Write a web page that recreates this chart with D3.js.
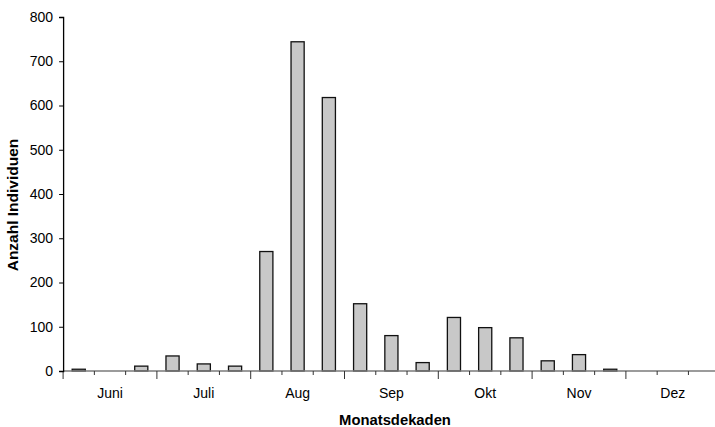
<!DOCTYPE html>
<html>
<head>
<meta charset="utf-8">
<script src="https://cdn.jsdelivr.net/npm/d3@7"></script>
<style>
  html, body { margin: 0; padding: 0; background: #fff; }
  svg text { font-family: "Liberation Sans", Arial, sans-serif; }
</style>
</head>
<body>
<svg id="chart" width="715" height="427"></svg>
<script>
// Monthly decades (three per month) from June to December
const months = ["Juni", "Juli", "Aug", "Sep", "Okt", "Nov", "Dez"];
const decades = months.flatMap(m => [m + "-1", m + "-2", m + "-3"]);
const counts = [
  4, 0, 11,
  34, 16, 11,
  270, 744, 618,
  152, 80, 19,
  121, 98, 75,
  23, 37, 4,
  0, 0, 0
];
const yTicks = [0, 100, 200, 300, 400, 500, 600, 700, 800];

const svg = d3.select("#chart");
const plotLeft = 63.1, plotRight = 719.7, plotTop = 17, plotBottom = 371;

const x = d3.scaleBand()
  .domain(decades)
  .range([plotLeft, plotRight])
  .paddingInner(0.58)
  .paddingOuter(0.29);

const xMonth = d3.scaleBand()
  .domain(months)
  .range([plotLeft, plotRight]);

const y = d3.scaleLinear()
  .domain([0, 800])
  .range([plotBottom, plotTop]);

// Bars
svg.append("g")
  .selectAll("rect")
  .data(counts)
  .join("rect")
  .attr("x", (d, i) => x(decades[i]))
  .attr("y", d => y(d))
  .attr("width", x.bandwidth())
  .attr("height", d => y(0) - y(d))
  .attr("fill", "#c8c8c8")
  .attr("stroke", "#111")
  .attr("stroke-width", 1.3);

// X axis: baseline, decade ticks, month ticks and labels
const xAxis = svg.append("g");
xAxis.append("line")
  .attr("x1", plotLeft).attr("x2", plotRight)
  .attr("y1", y(0)).attr("y2", y(0))
  .attr("stroke", "#7a7a7a").attr("stroke-width", 1.3);

const step = x.step();
xAxis.selectAll("line.tick")
  .data(d3.range(decades.length + 1))
  .join("line")
  .attr("class", "tick")
  .attr("x1", i => plotLeft + i * step)
  .attr("x2", i => plotLeft + i * step)
  .attr("y1", y(0))
  .attr("y2", i => y(0) + (i % 3 === 0 ? 8 : 4))
  .attr("stroke", "#333").attr("stroke-width", 1);

xAxis.selectAll("text")
  .data(months)
  .join("text")
  .attr("x", m => xMonth(m) + xMonth.bandwidth() / 2)
  .attr("y", 398)
  .attr("text-anchor", "middle")
  .attr("font-size", 14)
  .attr("fill", "#000")
  .text(m => m);

// Y axis
const yAxis = svg.append("g")
  .attr("transform", `translate(${plotLeft},0)`)
  .call(d3.axisLeft(y).tickValues(yTicks).tickSize(4).tickPadding(6));
yAxis.select(".domain").attr("stroke", "#000").attr("stroke-width", 1.3);
yAxis.selectAll(".tick line").attr("stroke", "#000");
yAxis.selectAll(".tick text")
  .attr("font-size", 14)
  .attr("fill", "#000")
  .style("font-family", "'Liberation Sans', Arial, sans-serif");

// Axis titles
svg.append("text")
  .attr("x", 395)
  .attr("y", 425)
  .attr("text-anchor", "middle")
  .attr("font-size", 14.8)
  .attr("font-weight", "bold")
  .text("Monatsdekaden");

svg.append("text")
  .attr("transform", "translate(18,205) rotate(-90)")
  .attr("text-anchor", "middle")
  .attr("font-size", 15.5)
  .attr("font-weight", "bold")
  .text("Anzahl Individuen");
</script>
</body>
</html>
